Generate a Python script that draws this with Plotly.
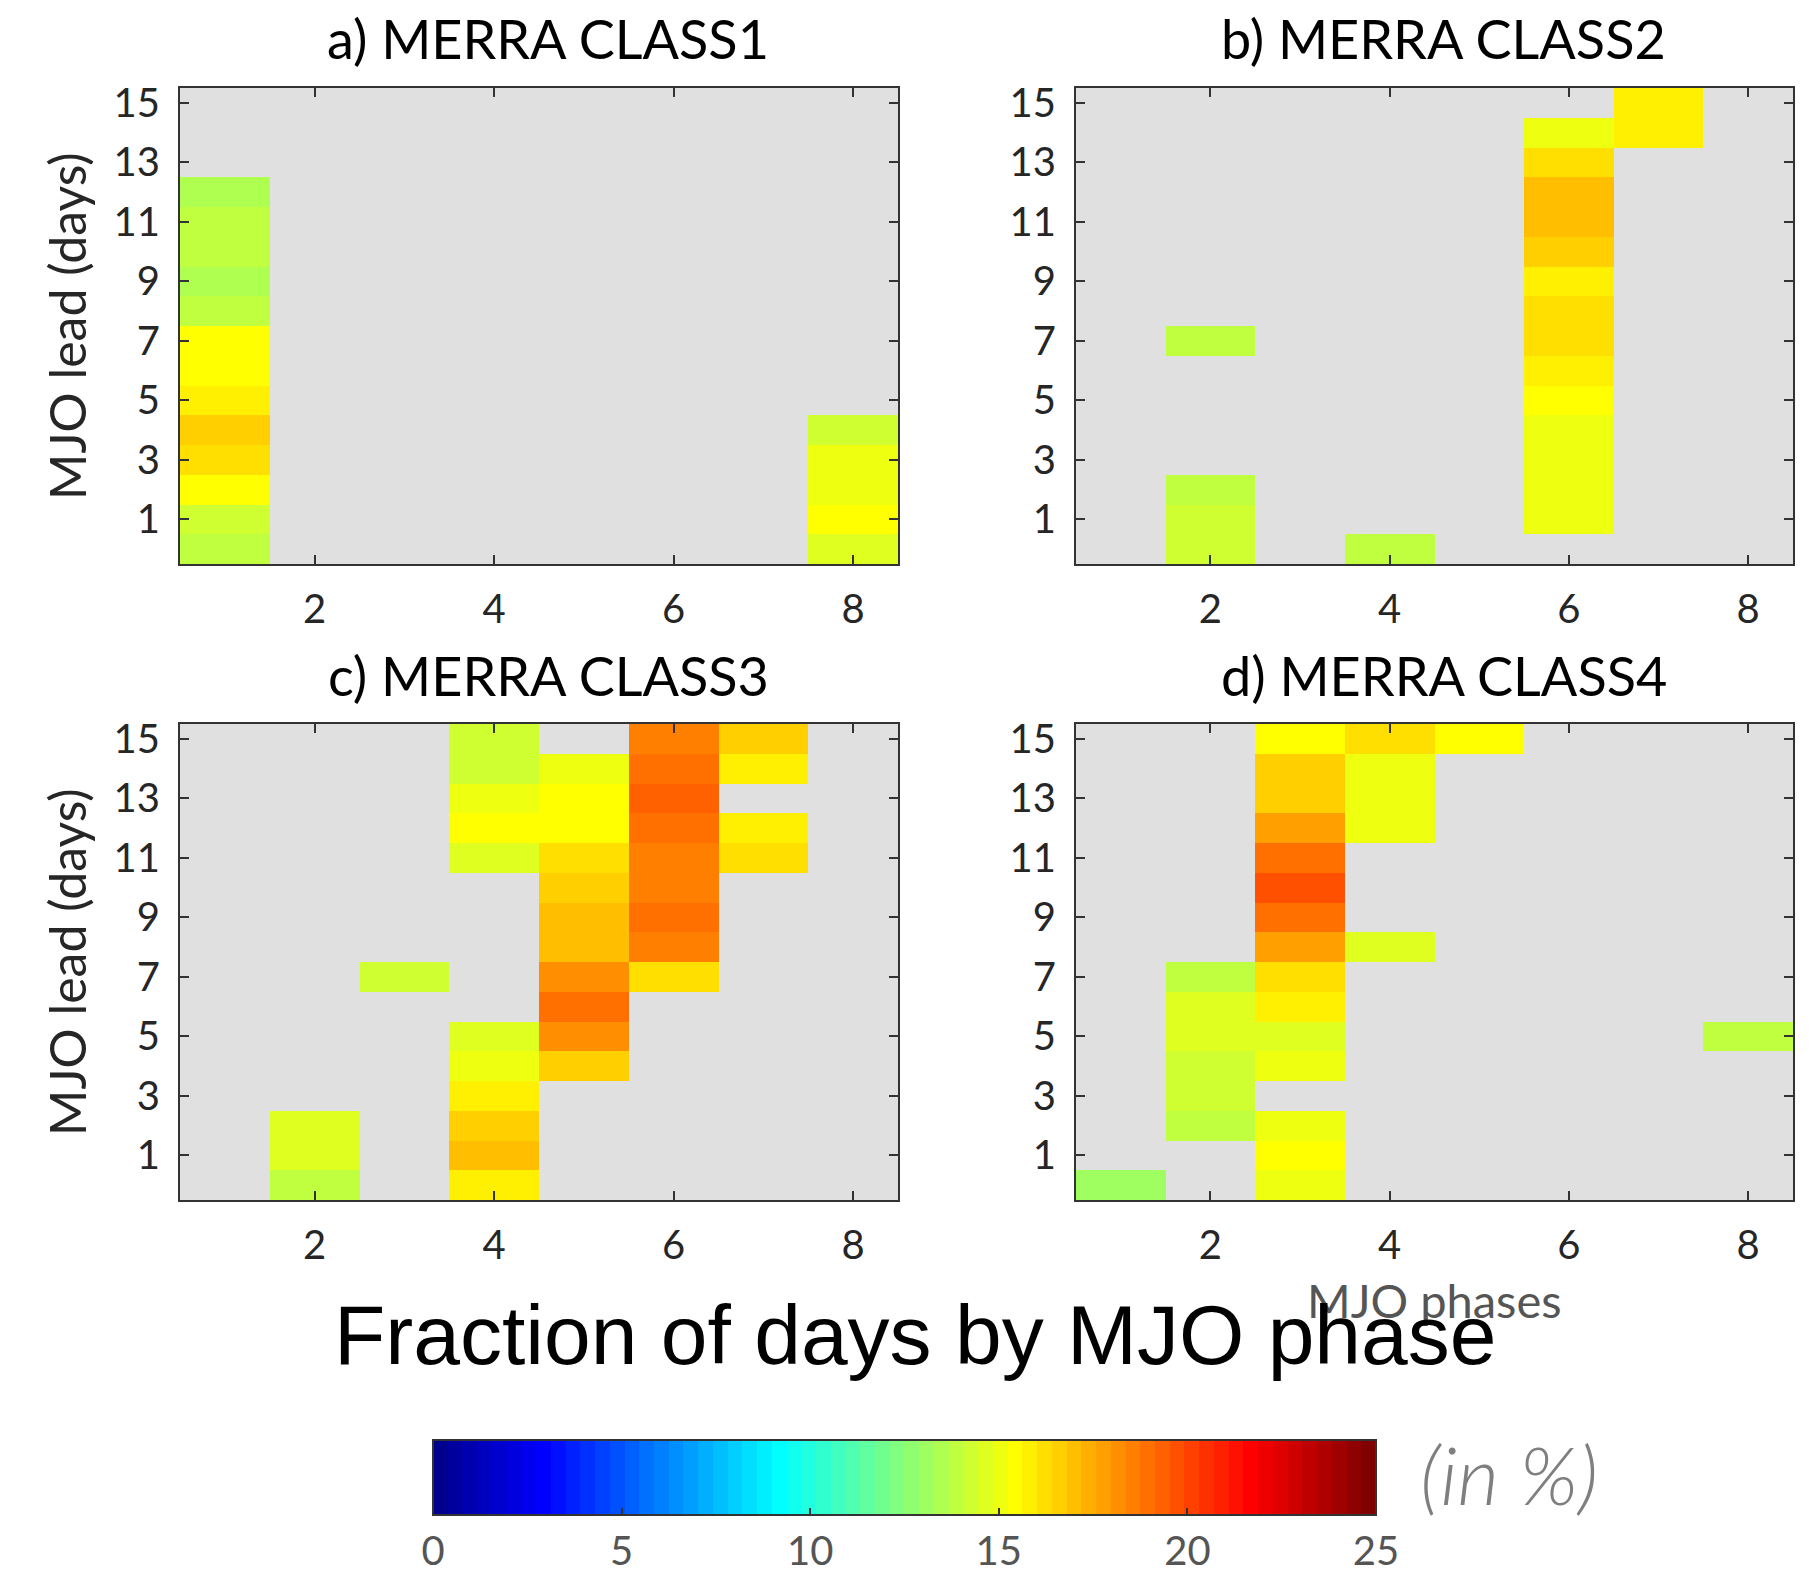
import numpy as np
import plotly.graph_objects as go

N = None
phases = [1, 2, 3, 4, 5, 6, 7, 8]
lead_days = list(range(16))
x_tick_vals = [2, 4, 6, 8]
y_tick_vals = [1, 3, 5, 7, 9, 11, 13, 15]
cbar_tick_vals = [0, 5, 10, 15, 20, 25]
panel_titles = ["a) MERRA CLASS1", "b) MERRA CLASS2", "c) MERRA CLASS3", "d) MERRA CLASS4"]

# rows = MJO lead 0..15, columns = MJO phase 1..8 (fraction of days, %)
class1 = [
    [13.9, N, N, N, N, N, N, 14.65],
    [14.3, N, N, N, N, N, N, 15.4],
    [15.4, N, N, N, N, N, N, 15.0],
    [16.2, N, N, N, N, N, N, 15.0],
    [16.6, N, N, N, N, N, N, 14.3],
    [15.8, N, N, N, N, N, N, N],
    [15.4, N, N, N, N, N, N, N],
    [15.4, N, N, N, N, N, N, N],
    [13.9, N, N, N, N, N, N, N],
    [13.5, N, N, N, N, N, N, N],
    [13.9, N, N, N, N, N, N, N],
    [13.9, N, N, N, N, N, N, N],
    [13.3, N, N, N, N, N, N, N],
    [N, N, N, N, N, N, N, N],
    [N, N, N, N, N, N, N, N],
    [N, N, N, N, N, N, N, N],
]
class2 = [
    [N, 14.3, N, 13.9, N, N, N, N],
    [N, 14.3, N, N, N, 15.0, N, N],
    [N, 13.9, N, N, N, 15.0, N, N],
    [N, N, N, N, N, 15.0, N, N],
    [N, N, N, N, N, 15.0, N, N],
    [N, N, N, N, N, 15.4, N, N],
    [N, N, N, N, N, 15.8, N, N],
    [N, 13.9, N, N, N, 16.2, N, N],
    [N, N, N, N, N, 16.2, N, N],
    [N, N, N, N, N, 15.8, N, N],
    [N, N, N, N, N, 16.6, N, N],
    [N, N, N, N, N, 17.0, N, N],
    [N, N, N, N, N, 17.0, N, N],
    [N, N, N, N, N, 16.2, N, N],
    [N, N, N, N, N, 15.0, 15.8, N],
    [N, N, N, N, N, N, 15.8, N],
]
class3 = [
    [N, 13.9, N, 15.8, N, N, N, N],
    [N, 14.65, N, 17.0, N, N, N, N],
    [N, 14.65, N, 16.6, N, N, N, N],
    [N, N, N, 15.8, N, N, N, N],
    [N, N, N, 15.0, 16.6, N, N, N],
    [N, N, N, 14.65, 18.2, N, N, N],
    [N, N, N, N, 19.0, N, N, N],
    [N, N, 14.3, N, 18.2, 16.2, N, N],
    [N, N, N, N, 17.0, 18.6, N, N],
    [N, N, N, N, 17.0, 19.0, N, N],
    [N, N, N, N, 16.6, 18.6, N, N],
    [N, N, N, 14.65, 16.2, 18.6, 16.2, N],
    [N, N, N, 15.4, 15.4, 19.0, 15.8, N],
    [N, N, N, 15.0, 15.4, 19.3, N, N],
    [N, N, N, 14.3, 15.0, 19.0, 15.8, N],
    [N, N, N, 14.3, N, 18.6, 16.6, N],
]
class4 = [
    [12.9, N, 15.0, N, N, N, N, N],
    [N, N, 15.4, N, N, N, N, N],
    [N, 13.9, 15.0, N, N, N, N, N],
    [N, 14.3, N, N, N, N, N, N],
    [N, 14.3, 15.0, N, N, N, N, N],
    [N, 14.65, 14.65, N, N, N, N, 13.9],
    [N, 14.65, 15.8, N, N, N, N, N],
    [N, 13.9, 16.2, N, N, N, N, N],
    [N, N, 17.8, 14.65, N, N, N, N],
    [N, N, 19.0, N, N, N, N, N],
    [N, N, 19.7, N, N, N, N, N],
    [N, N, 19.0, N, N, N, N, N],
    [N, N, 17.8, 15.0, N, N, N, N],
    [N, N, 16.6, 15.0, N, N, N, N],
    [N, N, 16.6, 15.0, N, N, N, N],
    [N, N, 15.4, 16.2, 15.4, N, N, N],
]
panels = [class1, class2, class3, class4]


def matlab_jet(n=64):
    m = int(np.ceil(n / 4))
    u = np.concatenate([np.arange(1, m + 1) / m, np.ones(m - 1), np.arange(m, 0, -1) / m])
    g = int(np.ceil(m / 2)) - (1 if n % 4 == 1 else 0) + np.arange(1, len(u) + 1)
    r = g + m
    b = g - m
    J = np.zeros((n, 3))
    k = r <= n
    J[r[k] - 1, 0] = u[k]
    k = (g >= 1) & (g <= n)
    J[g[k] - 1, 1] = u[k]
    k = b >= 1
    J[b[k] - 1, 2] = u[k]
    return J


jet = matlab_jet(64)
colorscale = []
for i, c in enumerate(jet):
    col = "rgb(%d,%d,%d)" % tuple(int(round(v * 255)) for v in c)
    colorscale.append([i / 64, col])
    colorscale.append([(i + 1) / 64, col])

W, H = 1819, 1576
def px_x(a, b):
    return [a / W, b / W]
def px_y(top, bottom):
    return [1 - bottom / H, 1 - top / H]

x_dom = [px_x(180, 898), px_x(1076, 1793)]
y_dom = [px_y(88, 564), px_y(724, 1200)]

fig = go.Figure()
axis_font = dict(family="Lato", size=40, color="#262626")
for i, z in enumerate(panels):
    n = i + 1
    sfx = "" if n == 1 else str(n)
    fig.add_trace(go.Heatmap(
        x=phases, y=lead_days, z=z, coloraxis="coloraxis",
        xaxis="x" + sfx, yaxis="y" + sfx, hoverongaps=False,
    ))
    common = dict(ticks="inside", ticklen=9, tickwidth=2, tickcolor="#333333",
                  showline=True, linecolor="#333333", linewidth=2, mirror="ticks",
                  showgrid=False, zeroline=False, tickfont=axis_font)
    fig.update_layout(**{
        "xaxis" + sfx: dict(domain=x_dom[i % 2], range=[0.5, 8.5], tickvals=x_tick_vals,
                            anchor="y" + sfx, ticklabelstandoff=9, **common),
        "yaxis" + sfx: dict(domain=y_dom[i // 2], range=[-0.5, 15.5], tickvals=y_tick_vals,
                            anchor="x" + sfx, ticklabelstandoff=10, **common),
    })

annotations = []
# x-axis label of panel d (partly hidden behind the big title)
annotations.append(dict(text="MJO phases", x=(1076 + 1793) / 2 / W, y=1 - 1300 / H,
                        xref="paper", yref="paper", showarrow=False, xanchor="center",
                        yanchor="middle", font=dict(family="Lato", size=47, color="#555555")))
for i, t in enumerate(panel_titles):
    xd = x_dom[i % 2]
    ty = 39 if i < 2 else 675
    annotations.append(dict(text=t, x=(xd[0] + xd[1]) / 2 + 9 / W, y=1 - ty / H, xref="paper",
                            yref="paper", showarrow=False, xanchor="center", yanchor="middle",
                            font=dict(family="Lato", size=54, color="#000000")))
for j in range(2):
    yd = y_dom[j]
    annotations.append(dict(text="MJO lead (days)", x=67 / W, y=(yd[0] + yd[1]) / 2,
                            xref="paper", yref="paper", showarrow=False, textangle=-90,
                            xanchor="center", yanchor="middle",
                            font=dict(family="Lato", size=50, color="#262626")))
annotations.append(dict(text="Fraction of days by MJO phase", x=915 / W, y=1 - 1335 / H,
                        xref="paper", yref="paper", showarrow=False, xanchor="center",
                        yanchor="middle",
                        font=dict(family="Liberation Sans", size=84, color="#000000")))
annotations.append(dict(text="<i>(in %)</i>", x=1509 / W, y=1 - 1473 / H,
                        xref="paper", yref="paper", showarrow=False, xanchor="center",
                        yanchor="middle",
                        font=dict(family="Lato", size=81, color="#7f7f7f", weight=300)))

fig.update_layout(
    width=W, height=H, margin=dict(l=0, r=0, t=0, b=0, autoexpand=False),
    paper_bgcolor="white", plot_bgcolor="#E0E0E0",
    annotations=annotations, showlegend=False,
    coloraxis=dict(
        colorscale=colorscale, cmin=0, cmax=25,
        colorbar=dict(
            orientation="h", x=904.5 / W, xanchor="center", y=1 - 1440 / H, yanchor="top",
            len=943, lenmode="pixels", thickness=75, thicknessmode="pixels",
            xpad=0, ypad=0, outlinecolor="#333333", outlinewidth=2,
            tickvals=cbar_tick_vals, ticks="inside", ticklen=8, tickwidth=2,
            tickcolor="#333333", tickfont=dict(family="Lato", size=40, color="#555555"),
        ),
    ),
)

fig.write_html("out.html")
